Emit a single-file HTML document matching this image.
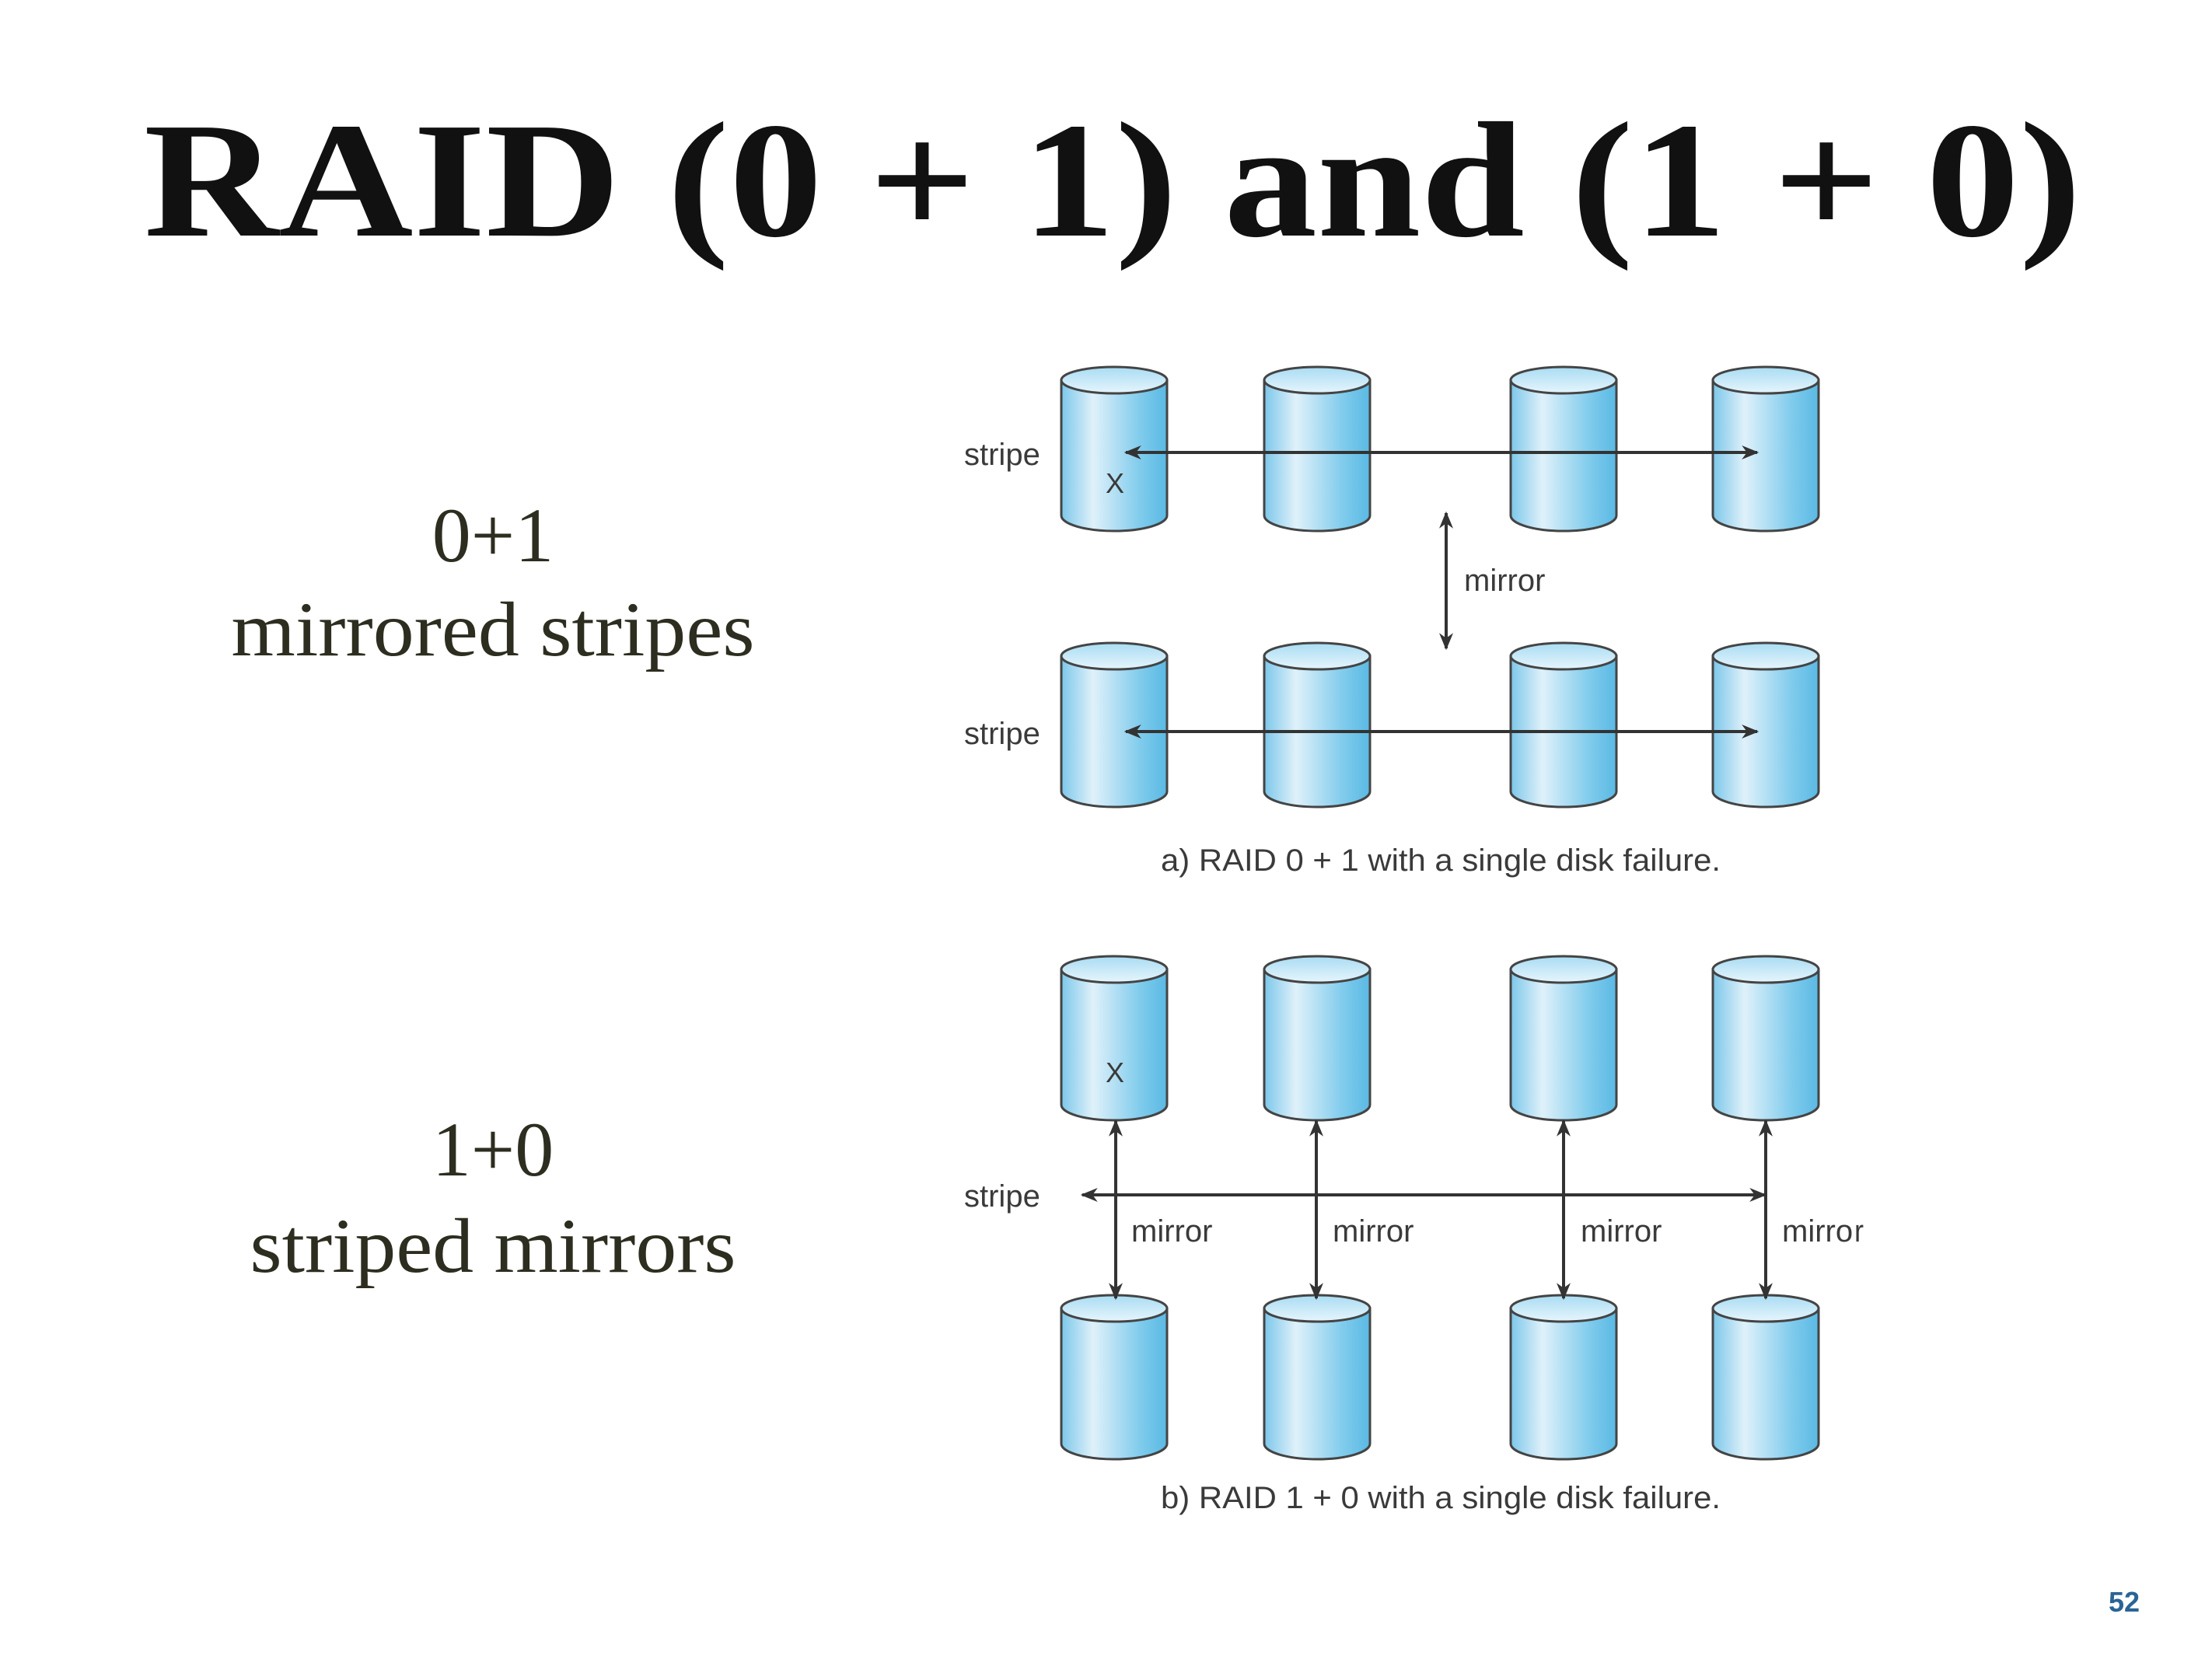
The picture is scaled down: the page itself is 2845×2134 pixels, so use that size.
<!DOCTYPE html>
<html><head><meta charset="utf-8"><style>
html,body{margin:0;padding:0;background:#fff;}
svg{display:block;}
</style></head><body>
<svg width="2845" height="2134" viewBox="0 0 2845 2134" xmlns="http://www.w3.org/2000/svg">
<defs>
<linearGradient id="g" x1="0" x2="1" y1="0" y2="0">
<stop offset="0" stop-color="#7cc7ea"/>
<stop offset="0.3" stop-color="#dff1fa"/>
<stop offset="0.75" stop-color="#7fcbec"/>
<stop offset="1" stop-color="#5ab9e4"/>
</linearGradient>
<linearGradient id="gt" x1="0" x2="0" y1="0" y2="1">
<stop offset="0" stop-color="#a9dcf3"/>
<stop offset="1" stop-color="#e6f5fc"/>
</linearGradient>
<symbol id="cyl" viewBox="-3 -3 142 218" width="142" height="218" overflow="visible">
<path d="M0,18 L0,192 A68,20 0 0 0 136,192 L136,18 Z" fill="url(#g)" stroke="#444" stroke-width="3"/>
<ellipse cx="68" cy="18" rx="68" ry="17" fill="url(#gt)" stroke="#444" stroke-width="3"/>
</symbol>
<marker id="ah" viewBox="0 0 10 10" refX="9" refY="5" markerWidth="22" markerHeight="18" orient="auto-start-reverse" markerUnits="userSpaceOnUse" preserveAspectRatio="none">
<path d="M0,0 L10,5 L0,10 L3,5 Z" fill="#333"/>
</marker>
</defs>

<text x="185" y="303" font-family="Liberation Serif, serif" font-weight="bold" font-size="212" fill="#111" textLength="2492" lengthAdjust="spacingAndGlyphs">RAID (0 + 1) and (1 + 0)</text>

<g font-family="Liberation Serif, serif" font-size="100" fill="#2d2d20" text-anchor="middle">
<text x="634" y="722">0+1</text>
<text x="634" y="843" textLength="673" lengthAdjust="spacingAndGlyphs">mirrored stripes</text>
<text x="634" y="1512">1+0</text>
<text x="634" y="1636" textLength="625" lengthAdjust="spacingAndGlyphs">striped mirrors</text>
</g>

<g>
<use href="#cyl" x="1362" y="468" width="142" height="218"/>
<use href="#cyl" x="1623" y="468" width="142" height="218"/>
<use href="#cyl" x="1940" y="468" width="142" height="218"/>
<use href="#cyl" x="2200" y="468" width="142" height="218"/>
<use href="#cyl" x="1362" y="823" width="142" height="218"/>
<use href="#cyl" x="1623" y="823" width="142" height="218"/>
<use href="#cyl" x="1940" y="823" width="142" height="218"/>
<use href="#cyl" x="2200" y="823" width="142" height="218"/>
</g>
<g stroke="#333" stroke-width="4" fill="none">
<line x1="1448" y1="582" x2="2260" y2="582" marker-start="url(#ah)" marker-end="url(#ah)"/>
<line x1="1448" y1="941" x2="2260" y2="941" marker-start="url(#ah)" marker-end="url(#ah)"/>
<line x1="1860" y1="660" x2="1860" y2="834" marker-start="url(#ah)" marker-end="url(#ah)"/>
</g>

<g>
<use href="#cyl" x="1362" y="1226" width="142" height="218"/>
<use href="#cyl" x="1623" y="1226" width="142" height="218"/>
<use href="#cyl" x="1940" y="1226" width="142" height="218"/>
<use href="#cyl" x="2200" y="1226" width="142" height="218"/>
<use href="#cyl" x="1362" y="1662" width="142" height="218"/>
<use href="#cyl" x="1623" y="1662" width="142" height="218"/>
<use href="#cyl" x="1940" y="1662" width="142" height="218"/>
<use href="#cyl" x="2200" y="1662" width="142" height="218"/>
</g>
<g stroke="#333" stroke-width="4" fill="none">
<line x1="1392" y1="1537" x2="2270" y2="1537" marker-start="url(#ah)" marker-end="url(#ah)"/>
<line x1="1435" y1="1442" x2="1435" y2="1670" marker-start="url(#ah)" marker-end="url(#ah)"/>
<line x1="1693" y1="1442" x2="1693" y2="1670" marker-start="url(#ah)" marker-end="url(#ah)"/>
<line x1="2011" y1="1442" x2="2011" y2="1670" marker-start="url(#ah)" marker-end="url(#ah)"/>
<line x1="2271" y1="1442" x2="2271" y2="1670" marker-start="url(#ah)" marker-end="url(#ah)"/>
</g>

<g font-family="Liberation Sans, sans-serif" font-size="40" fill="#3a3a3a">
<text x="1240" y="598">stripe</text>
<text x="1240" y="957">stripe</text>
<text x="1240" y="1552">stripe</text>
<text x="1422" y="634" font-size="36">X</text>
<text x="1422" y="1392" font-size="36">X</text>
<text x="1883" y="760">mirror</text>
<text x="1455" y="1597">mirror</text>
<text x="1714" y="1597">mirror</text>
<text x="2033" y="1597">mirror</text>
<text x="2292" y="1597">mirro</text><text x="2385" y="1597" textLength="12" lengthAdjust="spacingAndGlyphs">r</text>
<text x="1493" y="1120" textLength="720" lengthAdjust="spacingAndGlyphs">a) RAID 0 + 1 with a single disk failure.</text>
<text x="1493" y="1940" textLength="720" lengthAdjust="spacingAndGlyphs">b) RAID 1 + 0 with a single disk failure.</text>
</g>

<text x="2752" y="2073" font-family="Liberation Sans, sans-serif" font-weight="bold" font-size="36" fill="#2a6496" text-anchor="end">52</text>
</svg>
</body></html>
